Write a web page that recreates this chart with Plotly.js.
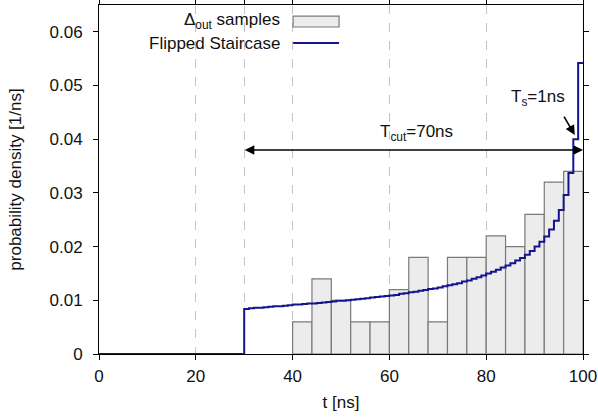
<!DOCTYPE html>
<html>
<head>
<meta charset="utf-8">
<script src="https://cdn.plot.ly/plotly-3.0.1.min.js"></script>
<style>html,body{margin:0;padding:0;background:#fff;}#chart{width:598px;height:420px;}</style>
</head>
<body>
<div id="chart"></div>
<script>
// Histogram of Delta_out samples (bin centres, width 4 ns)
const histCenters = [42, 46, 50, 54, 58, 62, 66, 70, 74, 78, 82, 86, 90, 94, 98];
const histDensity = [0.006, 0.014, 0.010, 0.006, 0.006, 0.012, 0.018, 0.006, 0.018, 0.018, 0.022, 0.020, 0.026, 0.032, 0.034];
const binWidth = 4;

// Flipped staircase (step starts, 1 ns steps)
const stairT = [0, 30, 31, 32, 33, 34, 35, 36, 37, 38, 39, 40, 41, 42, 43, 44, 45, 46, 47, 48, 49,
  50, 51, 52, 53, 54, 55, 56, 57, 58, 59, 60, 61, 62, 63, 64, 65, 66, 67, 68, 69,
  70, 71, 72, 73, 74, 75, 76, 77, 78, 79, 80, 81, 82, 83, 84, 85, 86, 87, 88, 89,
  90, 91, 92, 93, 94, 95, 96, 97, 98, 99, 100];
const stairP = [0, 0.0084, 0.0085, 0.0086, 0.0086, 0.0087, 0.0088, 0.0089, 0.0089, 0.0090, 0.0091,
  0.0092, 0.0092, 0.0093, 0.0094, 0.0094, 0.0095, 0.0096, 0.0097, 0.0098, 0.0099,
  0.0099, 0.0100, 0.0101, 0.0102, 0.0103, 0.0104, 0.0105, 0.0106, 0.0107, 0.0108,
  0.0109, 0.0110, 0.0112, 0.0113, 0.0115, 0.0116, 0.0118, 0.0119, 0.0121, 0.0122,
  0.0124, 0.0126, 0.0128, 0.0130, 0.0132, 0.0135, 0.0137, 0.0140, 0.0143, 0.0146,
  0.0150, 0.0153, 0.0157, 0.0161, 0.0165, 0.0169, 0.0174, 0.0179, 0.0185, 0.0192,
  0.0200, 0.0209, 0.0219, 0.0232, 0.0248, 0.0268, 0.0296, 0.0337, 0.0400, 0.0542, 0.0542];

const xTicks = [0, 20, 40, 60, 80, 100];
const xTopTicks = [0, 20, 30, 40, 60, 80, 100];
const yTicks = [0, 0.01, 0.02, 0.03, 0.04, 0.05, 0.06];
const yTickText = ['0', '0.01', '0.02', '0.03', '0.04', '0.05', '0.06'];

const navy = '#14148c';
const FONT = 'Liberation Sans, Arial, sans-serif';

const traces = [
  {
    type: 'bar', x: histCenters, y: histDensity, width: binWidth,
    marker: {color: '#ececec', line: {color: '#7a7a7a', width: 1.2}},
    name: 'Δ<sub>out</sub> samples', showlegend: false, hoverinfo: 'skip'
  },
  {
    type: 'scatter', mode: 'lines', x: stairT, y: stairP,
    line: {shape: 'hv', color: navy, width: 2},
    name: 'Flipped Staircase', showlegend: false, hoverinfo: 'skip'
  },
  {
    type: 'scatter', mode: 'markers', x: [50], y: [null], xaxis: 'x2',
    showlegend: false, hoverinfo: 'skip'
  }
];

const layout = {
  width: 598, height: 420,
  margin: {l: 99, r: 15, t: 5, b: 66},
  paper_bgcolor: '#fff', plot_bgcolor: '#fff',
  font: {family: FONT, size: 17, color: '#111'},
  showlegend: false,
  bargap: 0,
  xaxis: {
    range: [0, 100], tickvals: xTicks, ticks: 'outside', ticklen: 5, tickcolor: '#000',
    showgrid: false, zeroline: false, showline: true, linecolor: '#000', linewidth: 1,
    mirror: false, tickfont: {size: 17}, ticklabelstandoff: 2,
    title: {text: 't [ns]', font: {size: 17}, standoff: 10}
  },
  xaxis2: {
    range: [0, 100], overlaying: 'x', side: 'top', anchor: 'y',
    tickvals: xTopTicks, showticklabels: false, ticks: 'outside', ticklen: 5, tickcolor: '#000',
    showgrid: true, gridcolor: '#c4c4c4', griddash: 'dash', gridwidth: 1,
    zeroline: false, showline: true, linecolor: '#000', linewidth: 1
  },
  yaxis: {
    range: [0, 0.065], tickvals: yTicks, ticktext: yTickText, ticks: 'outside', ticklen: 5,
    tickcolor: '#000', showgrid: false, zeroline: false, showline: true, linecolor: '#000',
    linewidth: 1, mirror: 'ticks', tickfont: {size: 17}, ticklabelstandoff: 7,
    title: {text: 'probability density [1/ns]', font: {size: 17}, standoff: 23}
  },
  shapes: [
    {type: 'rect', xref: 'paper', yref: 'paper', x0: 0.401, x1: 0.496, y0: 0.937, y1: 0.968,
     fillcolor: '#ececec', line: {color: '#7a7a7a', width: 1.2}},
    {type: 'line', xref: 'paper', yref: 'paper', x0: 0.401, x1: 0.496, y0: 0.891, y1: 0.891,
     line: {color: navy, width: 2}}
  ],
  annotations: [
    {xref: 'paper', yref: 'paper', x: 0.378, y: 0.954, xanchor: 'right', yanchor: 'middle',
     text: 'Δ<sub>out</sub> samples', showarrow: false, font: {size: 17}},
    {xref: 'paper', yref: 'paper', x: 0.378, y: 0.891, xanchor: 'right', yanchor: 'middle',
     text: 'Flipped Staircase', showarrow: false, font: {size: 17}},
    {xref: 'x', yref: 'y', x: 65.7, y: 0.0411, xanchor: 'center', yanchor: 'middle',
     text: 'T<sub>cut</sub>=70ns', showarrow: false, font: {size: 17}},
    {xref: 'x', yref: 'y', x: 100, y: 0.038, axref: 'x', ayref: 'y', ax: 29.8, ay: 0.038,
     text: '', showarrow: true, arrowside: 'end+start', arrowhead: 2, arrowsize: 1.2,
     arrowwidth: 1.6, arrowcolor: '#000', standoff: 0, startstandoff: 0},
    {xref: 'x', yref: 'y', x: 90.7, y: 0.0477, xanchor: 'center', yanchor: 'middle',
     text: 'T<sub>s</sub>=1ns', showarrow: false, font: {size: 17}},
    {xref: 'x', yref: 'y', x: 98.3, y: 0.0408, axref: 'x', ayref: 'y', ax: 95.9, ay: 0.0445,
     text: '', showarrow: true, arrowhead: 2, arrowsize: 1.2, arrowwidth: 1.6,
     arrowcolor: '#000', standoff: 0}
  ]
};

Plotly.newPlot('chart', traces, layout, {staticPlot: true, displayModeBar: false});
</script>
</body>
</html>
